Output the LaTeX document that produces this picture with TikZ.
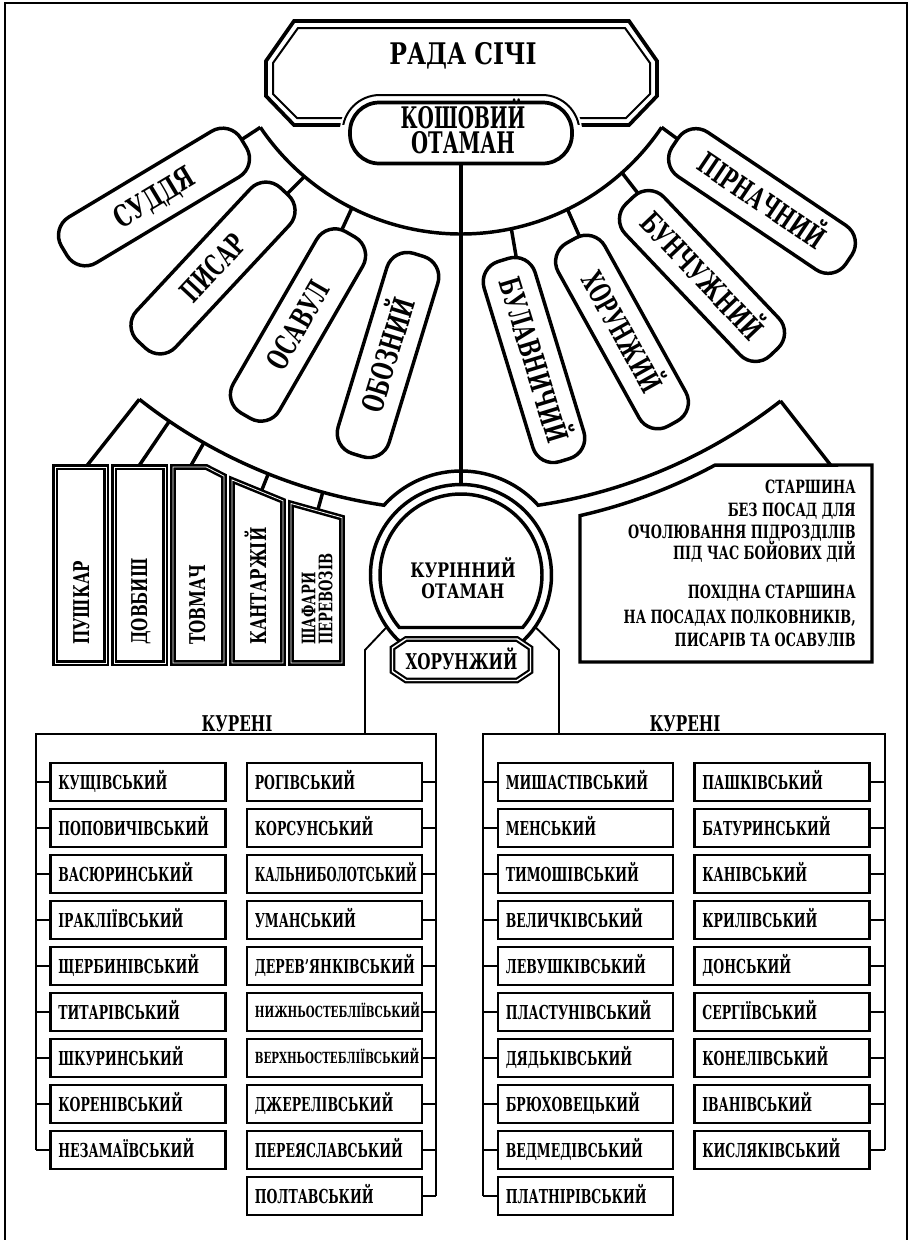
\documentclass[tikz,border=0pt]{standalone}
\usepackage{graphicx}
\usepackage{fontspec}
\setmainfont{DejaVu Serif}
\newfontfamily\fcond{DejaVu Serif}[FakeStretch=0.70]
\newfontfamily\fcondL{DejaVu Serif}[FakeStretch=0.65]
\newfontfamily\fnarrow{DejaVu Serif}[FakeStretch=0.67]
\usetikzlibrary{calc,backgrounds}
\newcommand{\fBig}{\fcond\bfseries\fontsize{22.3}{19}\selectfont}
\newcommand{\fList}{\fcondL\bfseries\fontsize{14.4}{16}\selectfont}
\newcommand{\fTxt}{\fcond\bfseries\fontsize{13.7}{16.9}\selectfont}
\newcommand{\fMid}{\fcond\bfseries\fontsize{16.3}{13}\selectfont}
\newcommand{\fShaf}{\fcond\bfseries\fontsize{14}{12.75}\selectfont}
\newcommand{\fKur}{\fcond\bfseries\fontsize{15}{15.75}\selectfont}
\newcommand{\fTiny}{\fnarrow\bfseries\fontsize{11.5}{12}\selectfont}
\newcommand{\sx}[2]{\scalebox{#1}[1]{#2}}
\begin{document}
\begin{tikzpicture}[x=0.75pt,y=-0.75pt,
  frame/.style={line width=1.5pt},
  arcl/.style={line width=2.6pt},
  conn/.style={line width=2.6pt},
  thinl/.style={line width=1.4pt},
  stad/.style={draw, line width=2.6pt, fill=white, rounded corners=16pt,
     minimum width=157pt, minimum height=40pt, inner sep=0pt, font=\fBig,
     text height=16.3pt, text depth=0pt},
  vbox/.style={draw, line width=1.9pt, double=white, double distance=0.6pt, fill=white},
  vtext/.style={font=\fMid, rotate=90, anchor=west, inner sep=0pt, text height=12pt, text depth=0pt},
  stext/.style={font=\fShaf, rotate=90, anchor=west, inner sep=0pt, text height=10.2pt, text depth=0pt},
  lbox/.style={draw, line width=1.8pt, fill=white, minimum height=28.2pt,
     text width=119.5pt, inner xsep=6pt, inner ysep=0pt, align=left, font=\fList,
     text height=10.5pt, text depth=0pt},
  rtxt/.style={font=\fTxt, anchor=east, inner sep=0pt, text height=10pt, text depth=0pt},
  ttl/.style={inner sep=0pt, text depth=0pt},
]
\useasboundingbox (0,0) rectangle (912,1240);
\coordinate (O) at (461,-8);
% outer frame
\draw[frame] (5,1240) -- (5,3) -- (907,3) -- (907,1240);

% upper arc
\draw[arcl] ($(O)+(146:242)$) coordinate (ua1) arc[start angle=146, end angle=34, radius=242] coordinate (ua2);
\coordinate (uPys) at ($(O)+(130.3:242)$);
\coordinate (uOsa) at ($(O)+(116.8:242)$);
\coordinate (uBul) at ($(O)+(78:242)$);
\coordinate (uHor) at ($(O)+(63.9:242)$);
\coordinate (uBun) at ($(O)+(48.3:242)$);

% lower arc with bulge round the circle
\draw[arcl] ($(O)+(128.3:519)$) coordinate (la1) arc[start angle=128.3, end angle=98.54, radius=519]
   arc[start angle=222.14, end angle=317.86, radius=104]
   arc[start angle=81.46, end angle=52, radius=519] coordinate (la2);
\foreach \a/\r/\n in {128.3/612/pu,124.2/582/do,119.7/556/to,111.8/548/ka,105.45/548/sh,52/612/st} {
  \coordinate (\n a) at ($(O)+(\a:519)$);
  \coordinate (\n b) at ($(O)+(\a:\r)$);
}

% RADA SICHI
\draw[line width=2.8pt, fill=white] (294,21) -- (629,21) -- (657,61) -- (657,96) -- (629,125) -- (294,125) -- (266,96) -- (266,61) -- cycle;
\draw[line width=1.5pt] (298,28) -- (625,28) -- (650,63) -- (650,94) -- (626,118) -- (297,118) -- (273,94) -- (273,63) -- cycle;
\begin{scope}
  \clip (250,0) rectangle (670,128);
  \fill[white, rounded corners=29pt] (340,92) rectangle (582,174);
\end{scope}
\begin{scope}
  \clip (250,0) rectangle (670,124);
  \draw[line width=1.5pt, rounded corners=28pt] (342.5,95) rectangle (579.5,171);
\end{scope}
\node[ttl, font=\fBig, text height=16.3pt] (rada) at (463,54) {\sx{1.13}{РАДА СІЧІ}};
\node[draw, line width=2.8pt, fill=white, rounded corners=22pt, minimum width=166.5pt,
      minimum height=45.75pt, inner sep=0pt] (kosh) at (461,133) {};
\node[ttl, font=\fBig, text height=16.3pt] (koshT1) at (463,117.5) {\sx{0.9}{КОШОВИЙ}};
\node[ttl, font=\fBig, text height=16.3pt] (koshT2) at (463,143) {\sx{0.94}{ОТАМАН}};

% officials
\node[stad, rotate=31] (sud) at (154,197) {СУДДЯ};
\node[stad, rotate=47] (pys) at (213,268) {\sx{0.9}{ПИСАР}};
\node[stad, rotate=60] (osa) at (298,325) {\sx{0.92}{ОСАВУЛ}};
\node[stad, rotate=73] (obo) at (388,355) {\sx{0.92}{ОБОЗНИЙ}};
\node[stad, rotate=-73] (bul) at (534,360) {\sx{0.92}{БУЛАВНИЧИЙ}};
\node[stad, rotate=-61] (hor) at (622,332) {\sx{0.86}{ХОРУНЖИЙ}};
\node[stad, rotate=-46.5] (bun) at (702,276) {\sx{0.92}{БУНЧУЖНИЙ}};
\node[stad, rotate=-34] (pir) at (762,201) {\sx{0.92}{ПІРНАЧНИЙ}};

% vertical boxes
\draw[vbox] (55,467) -- (106,467) -- (106,663) -- (55,663) -- cycle;
\draw[vbox] (114,467) -- (165,467) -- (165,663) -- (114,663) -- cycle;
\draw[vbox] (173,467) -- (206.3,467) -- (224,476.1) -- (224,663) -- (173,663) -- cycle;
\draw[vbox] (232,479.9) -- (283,500.8) -- (283,663) -- (232,663) -- cycle;
\draw[vbox] (291,503.5) -- (342,517.7) -- (342,663) -- (291,663) -- cycle;
\node[vtext] (puT) at (81,645) {ПУШКАР};
\node[vtext] (doT) at (139,645) {ДОВБИШ};
\node[vtext] (toT) at (197,645) {ТОВМАЧ};
\node[vtext] (kaT) at (258,645) {КАНТАРЖІЙ};
\node[stext] (shT1) at (308.5,645) {ШАФАРИ};
\node[stext] (shT2) at (325.5,645) {ПЕРЕВОЗІВ};

% right text box
\draw[line width=2.6pt, fill=white] (580,515.6) arc[start angle=77.2, end angle=61.76, radius=537]
   -- (872,465) -- (872,662) -- (580,662) -- cycle;
\node[rtxt] (t1) at (856,487) {СТАРШИНА};
\node[rtxt] (t2) at (856,510) {БЕЗ ПОСАД ДЛЯ};
\node[rtxt] (t3) at (856,532) {ОЧОЛЮВАННЯ ПІДРОЗДІЛІВ};
\node[rtxt] (t4) at (856,553) {ПІД ЧАС БОЙОВИХ ДІЙ};
\node[rtxt] (t5) at (856,592) {ПОХІДНА СТАРШИНА};
\node[rtxt] (t6) at (856,617) {НА ПОСАДАХ ПОЛКОВНИКІВ,};
\node[rtxt] (t7) at (856,640) {ПИСАРІВ ТА ОСАВУЛІВ};

% kurinnyi otaman circle
\node[circle, minimum size=135.75pt, inner sep=0pt, outer sep=0pt] (kur) at (461,575) {};
\draw[arcl] ($(kur.center)+(130:90.5)$) arc[start angle=130, end angle=410, radius=90.5];
\draw[arcl] ($(kur.center)+(139.6:81)$) arc[start angle=139.6, end angle=400.4, radius=81] -- cycle;
\node[ttl, font=\fKur, text height=10.9pt] (kurT1) at (463,570) {\sx{1.12}{КУРІННИЙ}};
\node[ttl, font=\fKur, text height=10.9pt] (kurT2) at (463,591) {\sx{1.12}{ОТАМАН}};
\draw[line width=1.6pt, double=white, double distance=1.1pt, fill=white]
  (406,639) -- (517,639) -- (530.5,648) -- (530.5,671.5) -- (517,680.5) -- (406,680.5) -- (392.5,671.5) -- (392.5,648) -- cycle;
\node[ttl, font=\fMid, text height=12pt] (horL) at (461.5,661) {ХОРУНЖИЙ};

% kureni containers
\coordinate (cA) at (36,734);
\coordinate (cB) at (436,734);
\coordinate (cC) at (483,734);
\coordinate (cD) at (885,734);
\coordinate (kbl) at (365,650);
\coordinate (kl) at (365,734);
\coordinate (kbr) at (559,650);
\coordinate (kr) at (559,734);
\node[ttl, font=\fMid, text height=12pt] (kurL) at (237,723) {КУРЕНІ};
\node[ttl, font=\fMid, text height=12pt] (kurR) at (685,723) {КУРЕНІ};

\foreach \t [count=\i] in {КУЩІВСЬКИЙ,ПОПОВИЧІВСЬКИЙ,ВАСЮРИНСЬКИЙ,ІРАКЛІЇВСЬКИЙ,ЩЕРБИНІВСЬКИЙ,ТИТАРІВСЬКИЙ,ШКУРИНСЬКИЙ,КОРЕНІВСЬКИЙ,НЕЗАМАЇВСЬКИЙ} {
  \node[lbox] (A\i) at (138,{782+46*(\i-1)}) {\mbox{\t}};
  \draw[thinl] (A\i.west) -- (A\i.west -| cA);
}
\foreach \t [count=\i] in {РОГІВСЬКИЙ,КОРСУНСЬКИЙ,{\sx{0.93}{КАЛЬНИБОЛОТСЬКИЙ}},УМАНСЬКИЙ,ДЕРЕВ’ЯНКІВСЬКИЙ,{\fTiny\raisebox{0.9pt}{НИЖНЬОСТЕБЛІЇВСЬКИЙ}},{\fTiny\raisebox{0.9pt}{ВЕРХНЬОСТЕБЛІЇВСЬКИЙ}},ДЖЕРЕЛІВСЬКИЙ,ПЕРЕЯСЛАВСЬКИЙ,ПОЛТАВСЬКИЙ} {
  \node[lbox] (B\i) at (334.5,{782+46*(\i-1)}) {\mbox{\t}};
  \draw[thinl] (B\i.east) -- (B\i.east -| cB);
}
\foreach \t [count=\i] in {МИШАСТІВСЬКИЙ,МЕНСЬКИЙ,ТИМОШІВСЬКИЙ,ВЕЛИЧКІВСЬКИЙ,ЛЕВУШКІВСЬКИЙ,ПЛАСТУНІВСЬКИЙ,ДЯДЬКІВСЬКИЙ,БРЮХОВЕЦЬКИЙ,ВЕДМЕДІВСЬКИЙ,ПЛАТНІРІВСЬКИЙ} {
  \node[lbox] (C\i) at (585.5,{782+46*(\i-1)}) {\mbox{\t}};
  \draw[thinl] (C\i.west) -- (C\i.west -| cC);
}
\foreach \t [count=\i] in {ПАШКІВСЬКИЙ,БАТУРИНСЬКИЙ,КАНІВСЬКИЙ,КРИЛІВСЬКИЙ,ДОНСЬКИЙ,СЕРГІЇВСЬКИЙ,КОНЕЛІВСЬКИЙ,ІВАНІВСЬКИЙ,КИСЛЯКІВСЬКИЙ} {
  \node[lbox] (D\i) at (782,{782+46*(\i-1)}) {\mbox{\t}};
  \draw[thinl] (D\i.east) -- (D\i.east -| cD);
}
\draw[thinl] (cA |- A9.west) -- (cA) -- (cB) -- (cB |- B10.east);
\draw[thinl] (cC |- C10.west) -- (cC) -- (cD) -- (cD |- D9.east);
\draw[thinl] (kur.215) -- (kbl) -- (kl);
\draw[thinl] (kur.-35) -- (kbr) -- (kr);

% connectors behind the boxes
\begin{pgfonlayer}{background}
  \draw[conn] (ua1) -- (sud.center);
  \draw[conn] (uPys) -- (pys.center);
  \draw[conn] (uOsa) -- (osa.center);
  \draw[conn] (uBul) -- (bul.center);
  \draw[conn] (uHor) -- (hor.center);
  \draw[conn] (uBun) -- (bun.center);
  \draw[conn] (ua2) -- (pir.center);
  \draw[conn] (kosh.south) -- (kur.north);
  \foreach \n in {pu,do,to,ka,sh,st} { \draw[conn] (\n a) -- (\n b); }
\end{pgfonlayer}
\end{tikzpicture}
\end{document}
